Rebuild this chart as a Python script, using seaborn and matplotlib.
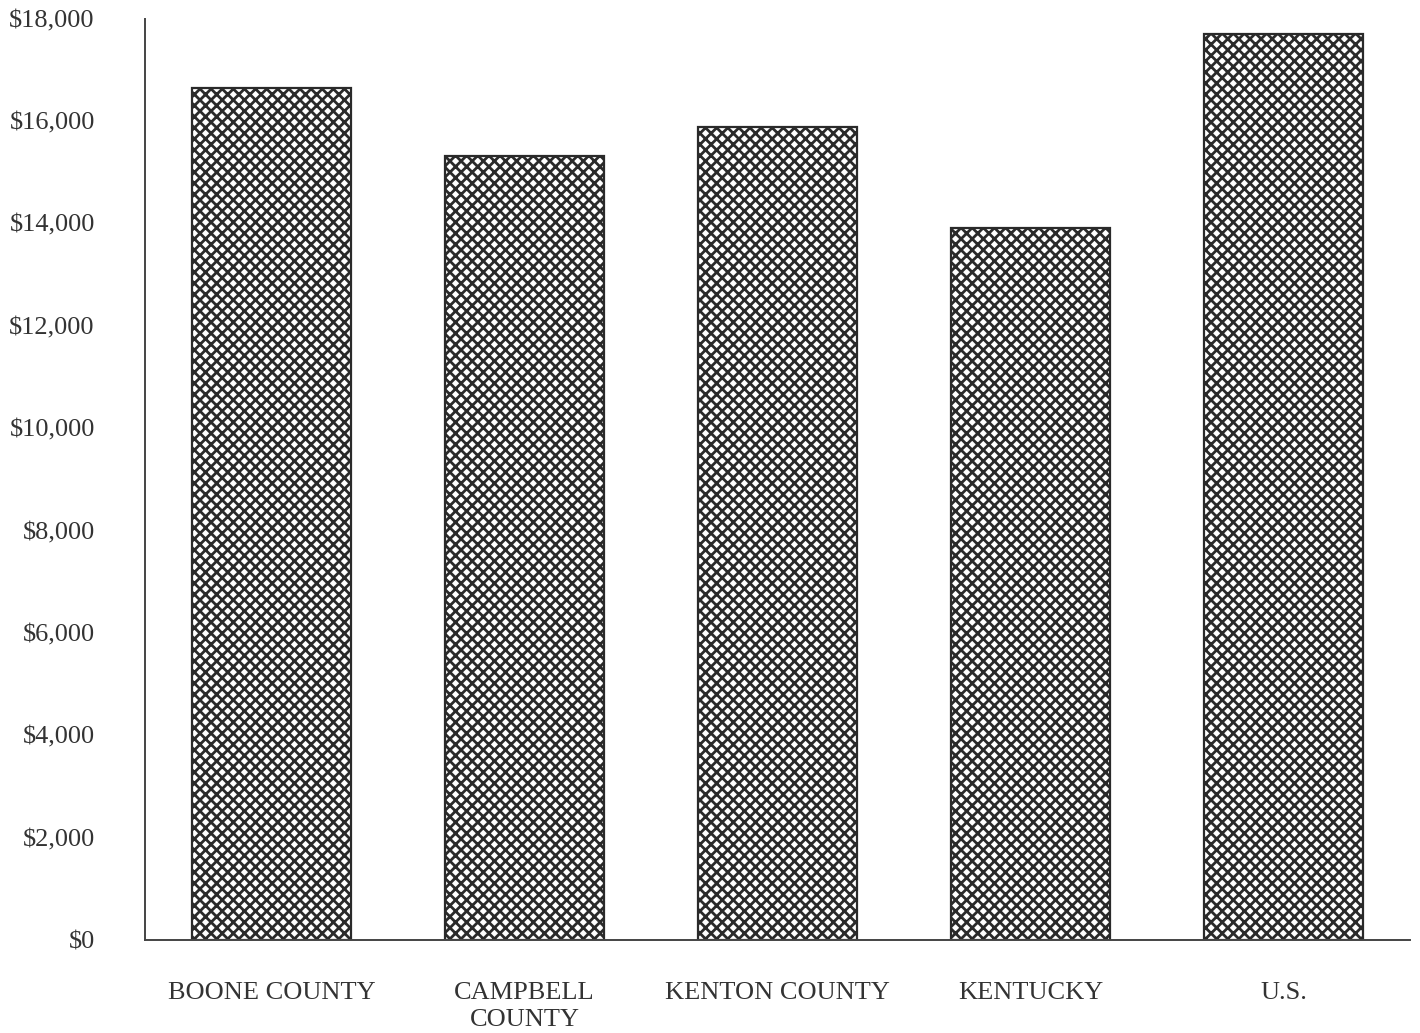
import pandas as pd
import seaborn as sns
import matplotlib.pyplot as plt
from matplotlib.ticker import FuncFormatter

# per capita income
areas = ['BOONE COUNTY', 'CAMPBELL\nCOUNTY', 'KENTON COUNTY', 'KENTUCKY', 'U.S.']
income = [16650, 15320, 15880, 13900, 17700]
yticks = [0, 2000, 4000, 6000, 8000, 10000, 12000, 14000, 16000, 18000]

df = pd.DataFrame({'area': areas, 'income': income})

sns.set_style('white')
plt.rcParams['font.family'] = ['Liberation Serif', 'DejaVu Serif']
plt.rcParams['hatch.linewidth'] = 2.0
plt.rcParams['hatch.color'] = '#383838'

fig = plt.figure(figsize=(14.2, 10.33), dpi=100)
ax = fig.add_axes([0.102, 0.09, 0.891, 0.892])

sns.barplot(data=df, x='area', y='income', color='white', width=0.63,
            edgecolor='#2a2a2a', linewidth=1.6, hatch='xxx', ax=ax)

ax.set_xlim(-0.5, 4.5)
ax.set_ylim(0, 18000)
ax.set_yticks(yticks)
ax.yaxis.set_major_formatter(FuncFormatter(lambda v, p: f'${v:,.0f}'))
ax.set_xlabel('')
ax.set_ylabel('')
ax.tick_params(axis='y', length=0, pad=36, labelsize=19, colors='#333333')
ax.tick_params(axis='x', length=0, pad=30, labelsize=19, colors='#333333')
for lab in ax.get_xticklabels():
    lab.set_linespacing(1.3)

sns.despine(ax=ax)
for s in ['left', 'bottom']:
    ax.spines[s].set_color('#444444')
    ax.spines[s].set_linewidth(1.4)

fig.savefig('out.png', dpi=100)
